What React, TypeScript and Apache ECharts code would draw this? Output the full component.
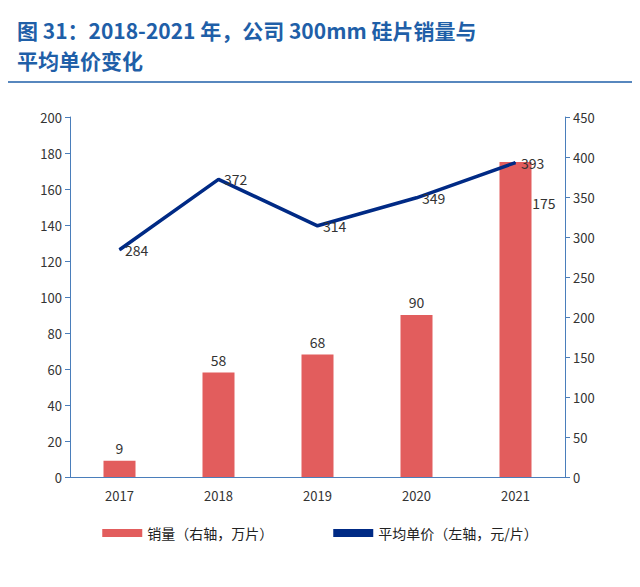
import { useEffect, useRef } from 'react';
import * as echarts from 'echarts';

const years = ['2017', '2018', '2019', '2020', '2021'];
const sales = [9, 58, 68, 90, 175];
const prices = [284, 372, 314, 349, 393];
const leftTicks = [0, 200, 20];
const rightTicks = [0, 450, 50];

export default function App() {
  const ref = useRef<HTMLDivElement>(null);

  useEffect(() => {
    if (!ref.current) return;
    const chart = echarts.init(ref.current, null, { renderer: 'svg' });
    const axisColor = '#4a7ebb';
    const font = "'Noto Sans CJK SC', sans-serif";
    chart.setOption({
      animation: false,
      textStyle: { fontFamily: font },
      title: {
        text: '图 31：2018-2021 年，公司 300mm 硅片销量与\n平均单价变化',
        left: 4,
        top: 2,
        textStyle: { color: '#1f5fa8', fontSize: 21, fontWeight: 'bold', lineHeight: 30, fontFamily: font }
      },
      graphic: [
        { type: 'line', shape: { x1: 0, y1: 74, x2: 640, y2: 74 }, style: { stroke: '#1f5fa8', lineWidth: 1.5 } },
        { type: 'line', shape: { x1: 0, y1: 573, x2: 640, y2: 573 }, style: { stroke: '#1f5fa8', lineWidth: 1.5 } }
      ],
      grid: { left: 62, right: 67, top: 109, bottom: 102 },
      legend: {
        bottom: 34,
        itemGap: 60,
        textStyle: { fontSize: 14, color: '#222' },
        data: [
          { name: '销量（右轴，万片）', icon: 'rect', itemStyle: { color: '#e25d5d' } },
          { name: '平均单价（左轴，元/片）', icon: 'rect' }
        ],
        itemWidth: 40,
        itemHeight: 8
      },
      xAxis: {
        type: 'category',
        data: years,
        axisLine: { lineStyle: { color: axisColor } },
        axisTick: { show: false },
        axisLabel: { color: '#333', fontSize: 13, margin: 12 }
      },
      yAxis: [
        {
          min: leftTicks[0], max: leftTicks[1], interval: leftTicks[2],
          axisLine: { show: true, lineStyle: { color: axisColor } },
          axisTick: { show: true, length: 5 },
          splitLine: { show: false },
          axisLabel: { color: '#333', fontSize: 13 }
        },
        {
          min: rightTicks[0], max: rightTicks[1], interval: rightTicks[2],
          axisLine: { show: true, lineStyle: { color: axisColor } },
          axisTick: { show: true, length: 5 },
          splitLine: { show: false },
          axisLabel: { color: '#333', fontSize: 13 }
        }
      ],
      series: [
        {
          name: '销量（右轴，万片）',
          type: 'bar',
          data: sales.map((v, i) =>
            i === 4
              ? { value: v, label: { position: 'insideTopRight', offset: [30, 28] } }
              : v
          ),
          barWidth: 32,
          itemStyle: { color: '#e25d5d' },
          label: { show: true, position: 'top', color: '#333', fontSize: 14, distance: 6 }
        },
        {
          name: '平均单价（左轴，元/片）',
          type: 'line',
          yAxisIndex: 1,
          z: 5,
          data: prices.map((v, i) =>
            i === 4
              ? { value: v, label: { offset: [-60, -30] } }
              : v
          ),
          symbol: 'circle',
          symbolSize: 1,
          lineStyle: { color: '#002a85', width: 3.5 },
          itemStyle: { color: '#002a85' },
          label: { show: true, position: 'right', offset: [5, 12], color: '#333', fontSize: 14 },
          labelLayout: { hideOverlap: false }
        }
      ]
    });
    return () => chart.dispose();
  }, []);

  return <div ref={ref} style={{ width: 624, height: 571 }} />;
}
